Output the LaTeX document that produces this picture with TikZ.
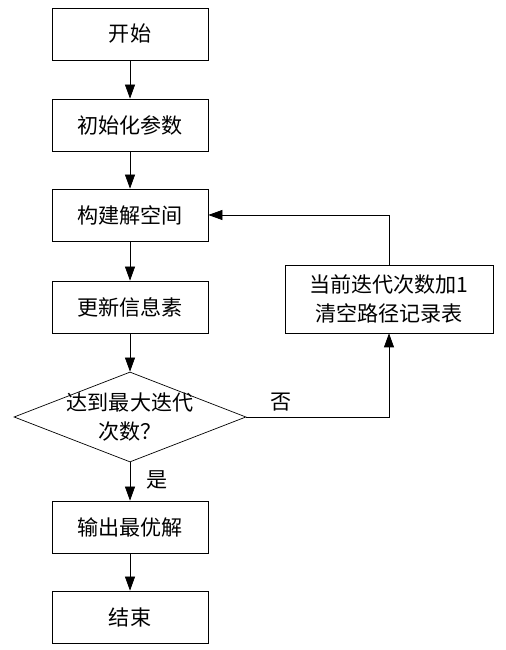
\documentclass[tikz,border=0pt]{standalone}
\usepackage{fontspec}
\newfontfamily\cjk{Noto Sans CJK SC}
\usetikzlibrary{arrows.meta,shapes.geometric}
\begin{document}
\begin{tikzpicture}[
    every node/.style={font=\cjk\fontsize{12}{15}\selectfont},
    stepbox/.style={draw,rectangle,minimum width=3.12cm,minimum height=1.04cm,inner sep=0pt},
    checkbox/.style={draw,diamond,minimum width=4.64cm,minimum height=1.8cm,inner sep=0pt},
    flow/.style={-{Triangle[length=2.8mm,width=2mm]}}
  ]
    \useasboundingbox (0,0) rectangle (10.1,13);
    %% Steps
    \node[stepbox] (start) at (2.6,12.32) {开始};
    \node[stepbox] (init) at (2.6,10.5) {初始化参数};
    \node[stepbox] (build) at (2.6,8.7) {构建解空间};
    \node[stepbox] (update) at (2.6,6.86) {更新信息素};
    \node[checkbox] (check) at (2.6,4.66) {};
    \node[align=center] (checktext) at (check.center) {达到最大迭代\\[1pt]次数？};
    \node[stepbox] (output) at (2.6,2.46) {输出最优解};
    \node[stepbox] (finish) at (2.6,0.66) {结束};
    %% Loop
    \node[stepbox,minimum width=4.16cm,minimum height=1.36cm,align=center] (reset) at (7.78,7.02) {当前迭代次数加1\\[2pt]清空路径记录表};
    %% Arrows
    \draw[flow] (start) -- (init);
    \draw[flow] (init) -- (build);
    \draw[flow] (build) -- (update);
    \draw[flow] (update) -- (check);
    \draw[flow] (check.south) -- (output) node[pos=0.45,right,xshift=2mm] {是};
    \draw[flow] (output) -- (finish);
    \draw[flow] (check.east) -| (reset.south) node[pos=0.12,above] {否};
    \draw[flow] (reset.north) |- (build.east);
\end{tikzpicture}
\end{document}
